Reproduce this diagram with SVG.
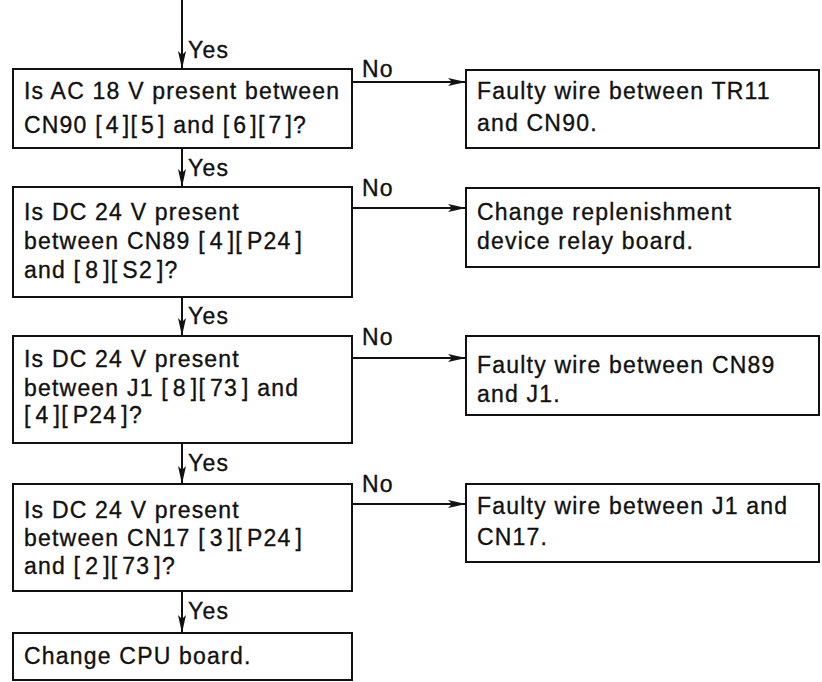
<svg xmlns="http://www.w3.org/2000/svg" width="822" height="682" viewBox="0 0 822 682">
<defs>
<style>
.box{fill:#fff;stroke:#111;stroke-width:2}
.t{font-family:"Liberation Sans",Arial,sans-serif;font-size:23px;letter-spacing:1.2px;fill:#111;stroke:#111;stroke-width:0.35px}
.c{stroke:#111;stroke-width:2;fill:none}
</style>
<marker id="ah" viewBox="0 0 18 8" refX="18" refY="4" markerWidth="18" markerHeight="8" markerUnits="userSpaceOnUse" orient="auto">
<path d="M0,0 L18,4 L0,8 L4,4 Z" fill="#111"/>
</marker>
</defs>
<g id="connectors">
<line class="c" x1="182" y1="0" x2="182" y2="69" marker-end="url(#ah)"/>
<text class="t" x="188" y="58">Yes</text>
<line class="c" x1="182" y1="148" x2="182" y2="187" marker-end="url(#ah)"/>
<text class="t" x="188" y="176">Yes</text>
<line class="c" x1="182" y1="297" x2="182" y2="336" marker-end="url(#ah)"/>
<text class="t" x="188" y="324">Yes</text>
<line class="c" x1="182" y1="443" x2="182" y2="484" marker-end="url(#ah)"/>
<text class="t" x="188" y="471">Yes</text>
<line class="c" x1="182" y1="591" x2="182" y2="633" marker-end="url(#ah)"/>
<text class="t" x="188" y="619">Yes</text>
<line class="c" x1="352" y1="82" x2="466" y2="82" marker-end="url(#ah)"/>
<text class="t" x="362" y="77">No</text>
<line class="c" x1="352" y1="208" x2="466" y2="208" marker-end="url(#ah)"/>
<text class="t" x="362" y="196">No</text>
<line class="c" x1="352" y1="358" x2="466" y2="358" marker-end="url(#ah)"/>
<text class="t" x="362" y="345">No</text>
<line class="c" x1="352" y1="504" x2="466" y2="504" marker-end="url(#ah)"/>
<text class="t" x="362" y="492">No</text>
</g>
<g id="q1">
<rect class="box" x="13" y="69" width="339" height="79"/>
<text class="t" x="24" y="99">Is AC 18 V present between</text>
<text class="t" x="24" y="133">CN90 [<tspan dx="3">4</tspan><tspan dx="3">]</tspan>[<tspan dx="3">5</tspan><tspan dx="3">]</tspan> and [<tspan dx="3">6</tspan><tspan dx="3">]</tspan>[<tspan dx="3">7</tspan><tspan dx="3">]</tspan>?</text>
</g>
<g id="r1">
<rect class="box" x="466" y="70" width="353" height="78"/>
<text class="t" x="477" y="99">Faulty wire between TR11</text>
<text class="t" x="477" y="131">and CN90.</text>
</g>
<g id="q2">
<rect class="box" x="13" y="187" width="339" height="110"/>
<text class="t" x="24" y="220">Is DC 24 V present</text>
<text class="t" x="24" y="249">between CN89 [<tspan dx="4">4</tspan><tspan dx="4">]</tspan>[<tspan dx="4">P24</tspan><tspan dx="4">]</tspan></text>
<text class="t" x="24" y="278">and [<tspan dx="4">8</tspan><tspan dx="4">]</tspan>[<tspan dx="4">S2</tspan><tspan dx="4">]</tspan>?</text>
</g>
<g id="r2">
<rect class="box" x="466" y="188" width="353" height="79"/>
<text class="t" x="477" y="220">Change replenishment</text>
<text class="t" x="477" y="249">device relay board.</text>
</g>
<g id="q3">
<rect class="box" x="13" y="336" width="339" height="107"/>
<text class="t" x="24" y="367">Is DC 24 V present</text>
<text class="t" x="24" y="396">between J1 [<tspan dx="4">8</tspan><tspan dx="4">]</tspan>[<tspan dx="4">73</tspan><tspan dx="4">]</tspan> and</text>
<text class="t" x="24" y="423">[<tspan dx="4">4</tspan><tspan dx="4">]</tspan>[<tspan dx="4">P24</tspan><tspan dx="4">]</tspan>?</text>
</g>
<g id="r3">
<rect class="box" x="466" y="336" width="353" height="79"/>
<text class="t" x="477" y="373">Faulty wire between CN89</text>
<text class="t" x="477" y="402">and J1.</text>
</g>
<g id="q4">
<rect class="box" x="13" y="484" width="339" height="107"/>
<text class="t" x="24" y="518">Is DC 24 V present</text>
<text class="t" x="24" y="546">between CN17 [<tspan dx="4">3</tspan><tspan dx="4">]</tspan>[<tspan dx="4">P24</tspan><tspan dx="4">]</tspan></text>
<text class="t" x="24" y="574">and [<tspan dx="4">2</tspan><tspan dx="4">]</tspan>[<tspan dx="4">73</tspan><tspan dx="4">]</tspan>?</text>
</g>
<g id="r4">
<rect class="box" x="466" y="484" width="353" height="78"/>
<text class="t" x="477" y="514">Faulty wire between J1 and</text>
<text class="t" x="477" y="545">CN17.</text>
</g>
<g id="end">
<rect class="box" x="13" y="633" width="339" height="47"/>
<text class="t" x="24" y="664">Change CPU board.</text>
</g>
</svg>
